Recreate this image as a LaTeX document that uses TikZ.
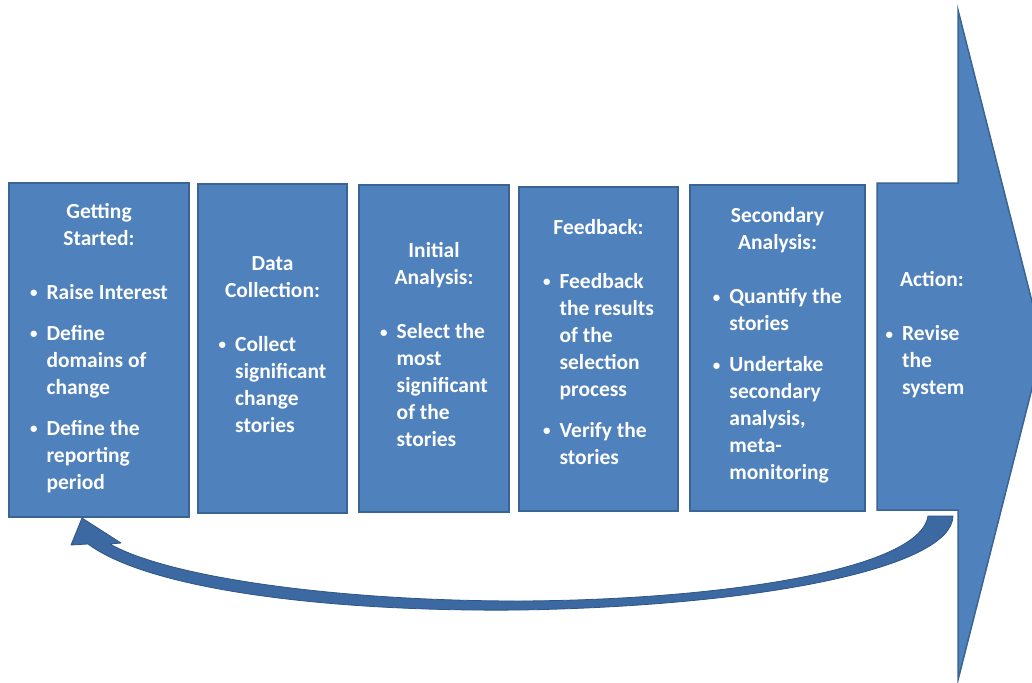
\documentclass[tikz,border=0pt]{standalone}
\usepackage{fontspec}
\setmainfont{Carlito}
\definecolor{boxblue}{HTML}{4F81BD}
\definecolor{boxedge}{HTML}{3A6494}
\definecolor{loopblue}{HTML}{3C69A2}
\definecolor{loopedge}{HTML}{2F5684}
\tikzset{
  stagebox/.style={draw=boxedge, fill=boxblue, line width=1.5pt, inner sep=0pt},
  stagetext/.style={text=white, font=\fontsize{21.5}{27}\selectfont\bfseries, align=center, inner sep=0pt},
  bigarrow/.style={draw=boxedge, fill=boxblue, line width=1.5pt, line join=miter},
  looparrow/.style={draw=loopedge, fill=loopblue, line width=0.8pt, line join=round}
}
\newcommand{\itemcol}{@{}l@{\hspace{9pt}}l@{}}
\newcommand{\bul}{\raisebox{1.5pt}{\fontsize{15}{15}\selectfont\textbullet}}
\begin{document}
\begin{tikzpicture}[x=1pt,y=-1pt]
\useasboundingbox (0,0) rectangle (1032,682);
\clip (0,0) rectangle (1032,682);
% big arrow (Action)
\draw[bigarrow] (877,183) -- (958,183) -- (958,10) -- (1043,345) -- (958,680) -- (958,510) -- (877,510) -- cycle;
\coordinate (act) at (925,337);
% boxes
\node[stagebox, minimum width=180pt, minimum height=334pt] (b1) at (99,350) {};
\node[stagebox, minimum width=149pt, minimum height=329pt] (b2) at (272.5,348.5) {};
\node[stagebox, minimum width=150pt, minimum height=327pt] (b3) at (434,348.5) {};
\node[stagebox, minimum width=159pt, minimum height=324pt] (b4) at (598.5,349) {};
\node[stagebox, minimum width=175pt, minimum height=326pt] (b5) at (777.5,348) {};
% texts
\node[stagetext] (t1) at (b1.center) {Getting\\Started:\\[27pt]\begin{tabular}[t]{\itemcol}
\bul & Raise Interest\\[14pt]
\bul & Define\\ & domains of\\ & change\\[14pt]
\bul & Define the\\ & reporting\\ & period
\end{tabular}};
\node[stagetext] (t2) at (b2.center) {Data\\Collection:\\[27pt]\begin{tabular}[t]{\itemcol}
\bul & Collect\\ & significant\\ & change\\ & stories
\end{tabular}};
\node[stagetext] (t3) at (b3.center) {Initial\\Analysis:\\[27pt]\begin{tabular}[t]{\itemcol}
\bul & Select the\\ & most\\ & significant\\ & of the\\ & stories
\end{tabular}};
\node[stagetext] (t4) at ([yshift=3pt]b4.center) {Feedback:\\[27pt]\begin{tabular}[t]{\itemcol}
\bul & Feedback\\ & the results\\ & of the\\ & selection\\ & process\\[14pt]
\bul & Verify the\\ & stories
\end{tabular}};
\node[stagetext] (t5) at (b5.center) {Secondary\\Analysis:\\[27pt]\begin{tabular}[t]{\itemcol}
\bul & Quantify the\\ & stories\\[14pt]
\bul & Undertake\\ & secondary\\ & analysis,\\ & meta-\\ & monitoring
\end{tabular}};
\node[stagetext] (t6) at (act) {\hspace*{14pt}Action:\\[27pt]\begin{tabular}[t]{\itemcol}
\bul & Revise\\ & the\\ & system
\end{tabular}};
% loop arrow back from Action to Getting Started
\coordinate (ls) at (953,516);
\coordinate (lt) at (82,518);
\draw[looparrow] (ls) .. controls (952,568) and (760,606) .. (520,610)
  .. controls (330,612) and (150,590) .. (88,544)
  -- (71,545) -- (lt) -- (121,543) -- (110,544)
  .. controls (170,578) and (340,601) .. (520,601)
  .. controls (720,600) and (920,570) .. (928,516) -- cycle;
\end{tikzpicture}
\end{document}
